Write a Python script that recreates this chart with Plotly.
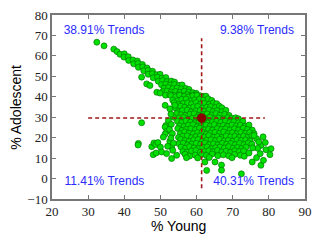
import plotly.graph_objects as go

# ---- data (x = % Young, y = % Adolescent) ----
band_points = [
    (32.4, 66.7), (34.4, 64.9), (37.1, 63.3), (38.0, 62.1),
    (38.8, 60.8), (40.0, 61.0), (39.9, 59.4), (41.1, 59.6),
    (41.2, 57.8), (42.4, 58.0), (43.6, 57.5),
    (42.6, 56.1), (43.8, 56.3), (45.0, 55.8),
    (43.9, 54.4), (45.1, 54.6), (46.3, 54.1),
    (45.4, 52.7), (46.6, 52.9), (47.8, 52.5),
    (46.6, 51.0), (47.8, 51.3), (49.0, 50.8), (49.9, 51.0),
    (48.0, 49.3), (49.2, 49.6), (50.4, 49.1), (51.5, 49.4),
    (49.4, 47.6), (50.6, 47.9), (51.8, 47.4), (53.0, 47.7), (53.9, 47.2),
    (50.3, 45.9), (51.5, 46.2), (52.7, 45.7), (53.9, 46.0), (55.1, 45.6), (56.0, 45.8),
    (51.0, 44.2), (52.2, 44.5), (53.4, 44.0), (54.6, 44.3), (55.8, 43.9), (57.0, 44.1), (57.9, 43.6),
    (50.6, 42.5), (51.8, 42.8), (53.0, 42.3), (54.2, 42.6), (55.4, 42.2), (56.6, 42.7),
    (57.8, 42.3), (59.0, 42.0), (59.9, 41.7),
    (51.4, 40.8), (52.6, 41.1), (53.8, 40.6), (55.0, 40.9), (56.2, 40.5), (57.4, 41.0),
    (58.6, 40.6), (59.8, 40.9), (61.0, 40.5), (61.9, 40.2),
]

blob_rows = [
    ([52.9, 54.2, 55.3, 56.6, 57.7, 59.0, 60.1, 61.4, 62.6],
     [40.6, 40.0, 40.8, 40.2, 39.9, 40.5, 40.7, 39.8, 40.3]),
    ([53.4, 54.8, 55.9, 57.1, 58.4, 59.5, 60.8, 61.9, 63.2, 64.2],
     [38.4, 38.1, 38.7, 38.9, 38.0, 38.5, 38.8, 38.3, 39.0, 38.2]),
    ([53.8, 55.0, 56.3, 57.5, 58.6, 59.9, 61.1, 62.2, 63.5, 64.6, 65.6],
     [37.1, 36.2, 36.7, 37.0, 36.5, 37.2, 36.4, 36.8, 36.3, 37.0, 36.6]),
    ([54.1, 55.6, 56.7, 58.0, 59.2, 60.3, 61.6, 62.8, 63.9, 65.2, 66.3, 67.0],
     [34.6, 35.4, 34.8, 34.5, 35.1, 35.3, 34.4, 34.9, 35.2, 34.7, 35.4, 34.6]),
    ([54.9, 56.1, 57.4, 58.5, 59.8, 61.0, 62.1, 63.4, 64.6, 65.7, 67.0, 68.1],
     [32.7, 33.3, 33.5, 32.6, 33.1, 33.4, 32.9, 33.6, 32.8, 33.2, 32.7, 33.4]),
    ([54.5, 55.7, 56.9, 58.2, 59.3, 60.6, 61.8, 62.9, 64.2, 65.4, 66.5, 67.8, 69.0],
     [31.8, 31.2, 30.9, 31.5, 31.7, 30.8, 31.3, 31.6, 31.1, 31.8, 31.0, 31.4, 30.9]),
    ([55.2, 56.4, 57.6, 58.8, 60.0, 62.6, 63.7, 65.0, 66.1, 67.4, 68.6, 69.7, 70.8, 71.6],
     [29.7, 29.9, 29.0, 29.5, 29.8, 29.3, 30.0, 29.2, 29.6, 29.1, 29.8, 29.4, 29.7, 29.2]),
    ([54.7, 55.9, 57.1, 58.3, 59.6, 60.7, 62.0, 63.1, 64.4, 65.6, 66.7, 68.0, 69.2, 70.3, 71.6, 72.8],
     [28.0, 27.4, 28.2, 27.6, 27.3, 27.9, 28.1, 27.2, 27.7, 28.0, 27.5, 28.2, 27.4, 27.8, 27.3, 28.0]),
    ([55.3, 56.6, 57.7, 59.0, 60.2, 61.3, 62.6, 63.8, 64.9, 66.2, 67.4, 68.5, 69.8, 71.0, 72.1, 73.4, 74.5],
     [25.8, 25.5, 26.1, 26.3, 25.4, 25.9, 26.2, 25.7, 26.4, 25.6, 26.0, 25.5, 26.2, 25.8, 26.1, 25.6, 26.2]),
    ([54.8, 56.0, 57.2, 58.4, 59.7, 60.8, 62.1, 63.3, 64.4, 65.7, 66.9, 68.0, 69.3, 70.5, 71.6, 72.9, 74.1, 75.4],
     [24.5, 23.6, 24.1, 24.4, 23.9, 24.6, 23.8, 24.2, 23.7, 24.4, 24.0, 24.3, 23.8, 24.4, 23.8, 24.6, 24.0, 23.7]),
    ([55.5, 56.7, 57.9, 59.1, 60.3, 61.5, 62.7, 63.9, 65.1, 66.3, 67.5, 68.7, 69.9, 71.1, 72.3, 73.5, 74.7, 75.9],
     [22.0, 22.8, 22.2, 21.9, 22.5, 22.7, 21.8, 22.3, 22.6, 22.1, 22.8, 22.0, 22.4, 21.9, 22.6, 22.2, 22.5, 22.0]),
    ([55.0, 56.2, 57.4, 58.6, 59.8, 61.0, 62.2, 63.4, 64.6, 65.8, 67.0, 68.2, 69.4, 70.6, 71.8, 73.0, 74.2, 75.3],
     [20.1, 20.7, 20.9, 20.0, 20.5, 20.8, 20.3, 21.0, 20.2, 20.6, 20.1, 20.8, 20.4, 20.7, 20.2, 20.8, 20.2, 21.0]),
    ([55.6, 56.8, 58.0, 59.2, 60.4, 61.6, 62.8, 64.0, 65.2, 66.4, 67.6, 68.8, 70.0, 71.2, 72.4, 73.6, 74.8],
     [19.2, 18.6, 18.3, 18.9, 19.1, 18.2, 18.7, 19.0, 18.5, 19.2, 18.4, 18.8, 18.3, 19.0, 18.6, 18.9, 18.4]),
    ([55.1, 56.3, 57.5, 58.7, 59.9, 61.1, 62.3, 63.5, 64.7, 65.9, 67.1, 68.3, 69.5, 70.7, 71.9, 73.1, 74.3, 75.3],
     [17.1, 17.3, 16.4, 16.9, 17.2, 16.7, 17.4, 16.6, 17.0, 16.5, 17.2, 16.8, 17.1, 16.6, 17.2, 16.6, 17.4, 16.8]),
    ([55.7, 56.9, 58.1, 59.3, 60.5, 61.7, 62.9, 64.1, 65.3, 66.5, 67.7, 68.9, 70.1, 71.3, 72.5, 73.7],
     [15.4, 14.8, 15.6, 15.0, 14.7, 15.3, 15.5, 14.6, 15.1, 15.4, 14.9, 15.6, 14.8, 15.2, 14.7, 15.4]),
    ([56.2, 57.4, 58.6, 59.8, 61.0, 62.2, 63.4, 64.6, 65.8, 67.0, 68.2, 69.4, 70.6, 71.8, 73.0],
     [13.2, 12.9, 13.5, 13.7, 12.8, 13.3, 13.6, 13.1, 13.8, 13.0, 13.4, 12.9, 13.6, 13.2, 13.5]),
    ([56.8, 58.1, 59.6, 61.4, 62.7, 64.3, 65.9, 67.4, 68.9, 70.5, 72.1],
     [11.9, 11.0, 11.5, 11.8, 11.3, 12.0, 11.2, 11.6, 11.1, 11.8, 11.4]),
]

scatter_points = [
    (44.8, 49.6), (46.2, 46.3), (47.1, 45.5), (49.0, 42.2),
    (49.9, 41.8), (51.3, 35.8), (52.6, 34.1), (53.6, 30.0), (52.9, 31.5),
    (44.8, 27.3), (51.5, 26.0), (51.3, 25.2), (51.7, 23.0), (51.3, 21.8), (50.8, 20.3),
    (43.9, 17.2), (43.8, 16.4), (47.6, 15.6), (48.2, 17.4), (48.7, 16.6), (49.3, 17.6),
    (48.0, 11.7), (48.8, 12.5), (50.0, 15.4), (50.3, 13.0), (51.7, 12.2), (53.1, 15.4),
    (53.1, 9.8), (53.4, 13.8), (54.5, 11.4), (52.6, 18.2),
    (52.2, 28.4), (53.0, 26.5), (52.5, 24.0), (53.3, 22.0), (52.9, 19.8), (53.6, 17.3),
    (52.0, 15.8), (54.0, 35.9),
    (62.3, 8.1), (62.8, 4.0), (65.1, 8.1), (66.9, 6.6), (66.9, 4.1), (72.4, 2.3),
    (75.4, 8.1), (76.6, 10.2), (77.8, 6.5), (78.5, 8.9), (77.6, 12.2), (79.2, 14.1),
    (80.3, 11.7), (80.6, 14.6), (77.8, 16.2), (76.6, 19.5), (75.9, 21.1), (78.4, 20.4),
    (79.0, 17.6), (77.2, 17.9), (76.9, 14.8),
    (57.2, 10.2), (60.3, 10.1), (63.5, 10.3), (69.8, 10.2), (73.2, 10.9),
    (74.5, 12.5), (75.5, 15.0),
]

mean_young = 61.4
mean_adolescent = 29.6
h_line_young = [30.0, 78.9]
v_line_adolescent = [-4.8, 68.6]

quadrant_labels = ["38.91% Trends", "9.38% Trends", "11.41% Trends", "40.31% Trends"]
label_young = [34.4, 76.7, 34.5, 75.8]
label_adolescent = [72.3, 72.3, -1.7, -1.7]

x_ticks = [20, 30, 40, 50, 60, 70, 80, 90]
y_ticks = [-10, 0, 10, 20, 30, 40, 50, 60, 70, 80]

# ---- assemble ----
young = [p[0] for p in band_points]
adolescent = [p[1] for p in band_points]
for xs, ys in blob_rows:
    for xv, yv in zip(xs, ys, strict=True):
        young.append(xv)
        adolescent.append(yv)
young.extend(p[0] for p in scatter_points)
adolescent.extend(p[1] for p in scatter_points)

fig = go.Figure()
fig.add_trace(go.Scatter(
    x=young, y=adolescent, mode="markers",
    marker=dict(size=6, color="#00e000", line=dict(color="#007800", width=0.7)),
    hoverinfo="skip"))
dash_color = "#a01818"
fig.add_trace(go.Scatter(
    x=h_line_young, y=[mean_adolescent, mean_adolescent], mode="lines",
    line=dict(color=dash_color, width=1.6, dash="4px,3px")))
fig.add_trace(go.Scatter(
    x=[mean_young, mean_young], y=v_line_adolescent, mode="lines",
    line=dict(color=dash_color, width=1.6, dash="4px,3px")))
fig.add_trace(go.Scatter(
    x=[mean_young], y=[mean_adolescent], mode="markers",
    marker=dict(size=9, color="#8b0000", line=dict(color="#6a0000", width=0.5))))
fig.add_trace(go.Scatter(
    x=label_young, y=label_adolescent, mode="text", text=quadrant_labels,
    textfont=dict(family="Liberation Sans", size=12, color="#2b2bff")))

axis_common = dict(
    ticks="inside", ticklen=4, tickwidth=1, tickcolor="#777",
    showline=True, linecolor="#777", linewidth=1.5, mirror="ticks",
    showgrid=False, zeroline=False, automargin=False, ticklabeloverflow="allow",
    tickfont=dict(family="Liberation Serif", size=13, color="#222"),
)
fig.update_xaxes(range=[20, 90], tickvals=x_ticks, **axis_common)
fig.update_yaxes(range=[-10, 80], tickvals=y_ticks, **axis_common)

title_font = dict(family="Liberation Sans", size=14, color="black")
fig.add_annotation(text="% Young", xref="paper", yref="paper", x=0.5, y=-0.147,
                   xanchor="center", yanchor="middle", showarrow=False, font=title_font)
fig.add_annotation(text="% Adolescent", xref="paper", yref="paper", x=-0.143, y=0.5,
                   xanchor="center", yanchor="middle", textangle=-90, showarrow=False,
                   font=title_font)
# the page body adds an 8px offset, so the figure is 8px smaller on each axis
fig.update_layout(width=312, height=232, margin=dict(l=44, r=15, t=7, b=41),
                  plot_bgcolor="white", paper_bgcolor="white", showlegend=False)
fig.write_html("out.html")
